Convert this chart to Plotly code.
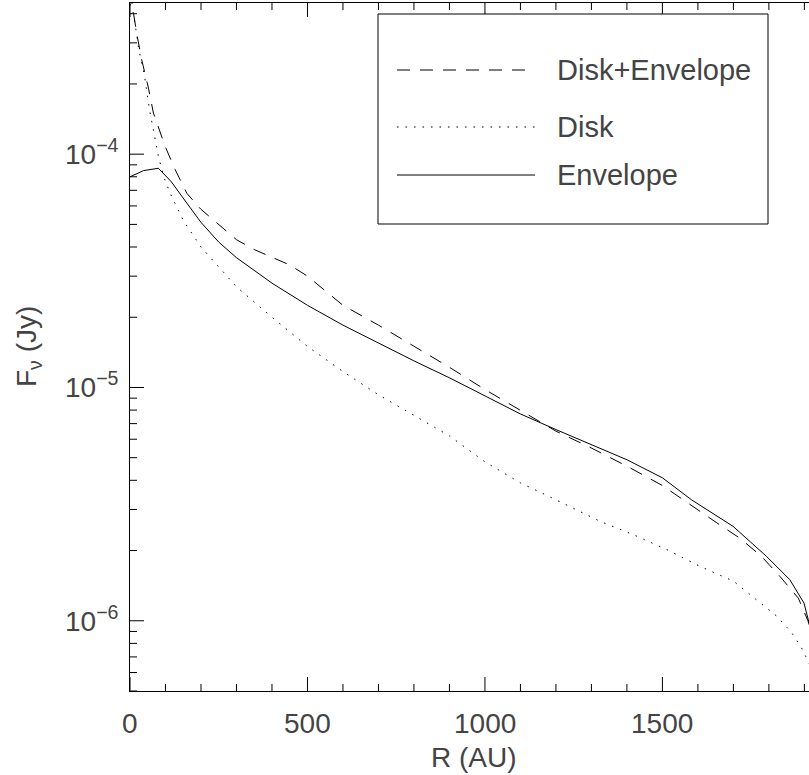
import plotly.graph_objects as go
import numpy as np

# ---- data ----
r_disk = [0, 10, 25, 40, 55, 65, 80, 95, 113, 150, 200, 300, 400, 500, 600, 700, 800, 900,
          1000, 1100, 1200, 1324, 1418, 1512, 1606, 1700, 1765, 1821, 1864, 1892, 1915]
f_disk = [4.4e-4, 4.0e-4, 2.8e-4, 2.2e-4, 1.55e-4, 1.27e-4, 9.8e-5, 8.0e-5, 6.8e-5, 5.2e-5,
          4.0e-5, 2.7e-5, 2.0e-5, 1.5e-5, 1.17e-5, 9.3e-6, 7.6e-6, 6.2e-6,
          4.8e-6, 3.9e-6, 3.3e-6, 2.67e-6, 2.34e-6, 2.02e-6, 1.71e-6, 1.48e-6, 1.23e-6,
          1.05e-6, 8.9e-7, 7.65e-7, 6.5e-7]

r_env = [0, 38, 80, 117, 146, 200, 250, 300, 400, 500, 600, 700, 800, 900, 1000, 1100,
         1200, 1300, 1400, 1500, 1582, 1699, 1793, 1859, 1899, 1911, 1925]
f_env = [8.0e-5, 8.5e-5, 8.7e-5, 7.6e-5, 6.6e-5, 5.1e-5, 4.2e-5, 3.6e-5, 2.8e-5, 2.25e-5,
         1.85e-5, 1.55e-5, 1.3e-5, 1.1e-5, 9.2e-6, 7.7e-6, 6.6e-6, 5.7e-6, 4.9e-6, 4.1e-6,
         3.3e-6, 2.54e-6, 1.89e-6, 1.5e-6, 1.19e-6, 1.01e-6, 8.5e-7]

r_tot = [0, 18.8, 33, 52, 66, 99, 127, 160, 200, 250, 300, 350, 400, 450, 500, 550, 600,
         700, 800, 900, 1000, 1100, 1170, 1200, 1300, 1400, 1500, 1577, 1653, 1718, 1779,
         1831, 1883, 1910, 1925]
f_tot = [5.0e-4, 3.3e-4, 2.54e-4, 1.92e-4, 1.5e-4, 1.08e-4, 8.6e-5, 6.8e-5, 5.8e-5, 5.0e-5,
         4.3e-5, 3.9e-5, 3.6e-5, 3.35e-5, 3.0e-5, 2.6e-5, 2.25e-5, 1.85e-5, 1.5e-5,
         1.22e-5, 9.8e-6, 8.0e-6, 6.9e-6, 6.5e-6, 5.5e-6, 4.6e-6, 3.8e-6, 3.15e-6,
         2.63e-6, 2.26e-6, 1.89e-6, 1.55e-6, 1.25e-6, 1.0e-6, 8.5e-7]

legend_names = ["Disk+Envelope", "Disk", "Envelope"]
x_ticks = [0, 500, 1000, 1500]
x_ticktext = ["0", "500", "1000", "1500"]
x_minor = [v for v in range(100, 2000, 100) if v % 500]
y_ticks = [1e-6, 1e-5, 1e-4]
y_ticktext = ["10<sup>−6</sup>", "10<sup>−5</sup>", "10<sup>−4</sup>"]
y_minor = [m * 10.0 ** e for e in (-7, -6, -5, -4) for m in range(2, 10)]

FONT = "Liberation Sans"
TXT = "#444444"
FS = 28

DASH = "13px,10px"
DOT = "1.5px,7px"

XR = [0, 1913]
ytop = -4 + (154.3 - 3) / 233.5
YR = [np.log10(5e-7), ytop]

# plot-area size in pixels (used for tick lengths and the legend frame)
L, T, W, H = 130, 3, 679, 688

fig = go.Figure()
fig.add_trace(go.Scatter(x=r_tot, y=f_tot, mode="lines", name=legend_names[0],
                         line=dict(color="black", width=1, dash=DASH)))
fig.add_trace(go.Scatter(x=r_disk, y=f_disk, mode="lines", name=legend_names[1],
                         line=dict(color="black", width=1, dash=DOT)))
fig.add_trace(go.Scatter(x=r_env, y=f_env, mode="lines", name=legend_names[2],
                         line=dict(color="black", width=1)))

fig.update_layout(
    width=809, height=775,
    margin=dict(l=L, r=809 - L - W, t=T, b=775 - T - H),
    paper_bgcolor="white", plot_bgcolor="white",
    showlegend=False,
    font=dict(family=FONT, size=FS, color=TXT),
    xaxis=dict(range=XR, showgrid=False, zeroline=False, showticklabels=False,
               ticks="", showline=True, linecolor="black", linewidth=1, mirror=True),
    yaxis=dict(type="log", range=YR, showgrid=False, zeroline=False,
               showticklabels=False, ticks="", showline=True, linecolor="black",
               linewidth=1),
)

# inward IDL-style tick marks (bottom + top for x, left for y)
tick_line = dict(color="black", width=1)
for vals, ln in ((x_ticks, 14), (x_minor, 7)):
    for v in vals:
        fig.add_shape(type="line", xref="x", yref="paper", x0=v, x1=v, y0=0, y1=ln / H,
                      line=tick_line, layer="above")
        fig.add_shape(type="line", xref="x", yref="paper", x0=v, x1=v, y0=1,
                      y1=1 - ln / H, line=tick_line, layer="above")
for vals, ln in ((y_ticks, 14), (y_minor, 7)):
    for v in vals:
        if v < 5e-7 or v > 10 ** ytop:
            continue
        fig.add_shape(type="line", xref="paper", yref="y", x0=0, x1=ln / W, y0=v, y1=v,
                      line=tick_line, layer="above")

# tick labels (IDL style placement)
for xv, tt in zip(x_ticks, x_ticktext):
    fig.add_annotation(text=tt, xref="x", yref="paper", x=xv, y=(691 - 723) / H,
                       showarrow=False, xanchor="center", yanchor="middle",
                       font=dict(family=FONT, size=FS, color=TXT))
for yv, tt in zip(y_ticks, y_ticktext):
    fig.add_annotation(text=tt, xref="paper", yref="y", x=(121 - L) / W,
                       y=np.log10(yv), showarrow=False, xanchor="right",
                       yanchor="middle", yshift=2,
                       font=dict(family=FONT, size=FS, color=TXT))

# axis titles
fig.add_annotation(text="R (AU)", xref="paper", yref="paper", x=(474 - L) / W,
                   y=(691 - 757) / H, showarrow=False, xanchor="center",
                   yanchor="middle", font=dict(family=FONT, size=FS, color=TXT))
fig.add_annotation(text="F<sub>ν</sub> (Jy)", xref="paper", yref="paper",
                   x=(28 - L) / W, y=0.5, textangle=-90, showarrow=False,
                   xanchor="center", yanchor="middle",
                   font=dict(family=FONT, size=FS, color=TXT))

# legend box drawn in the IDL style
def px(xp):
    return (xp - L) / W

def py(yp):
    return (T + H - yp) / H

fig.add_shape(type="rect", xref="paper", yref="paper", x0=px(378), x1=px(768),
              y0=py(224), y1=py(14), line=dict(color="black", width=1),
              fillcolor="white", layer="above")
rows = [70, 127, 175]
styles = [DASH, DOT, "solid"]
for name, row, st in zip(legend_names, rows, styles):
    fig.add_shape(type="line", xref="paper", yref="paper", x0=px(397), x1=px(535),
                  y0=py(row), y1=py(row), line=dict(color="black", width=1, dash=st),
                  layer="above")
    fig.add_annotation(text=name, xref="paper", yref="paper", x=px(555), y=py(row),
                       xanchor="left", yanchor="middle", showarrow=False,
                       font=dict(family=FONT, size=29, color=TXT))

fig.write_html("out.html")
